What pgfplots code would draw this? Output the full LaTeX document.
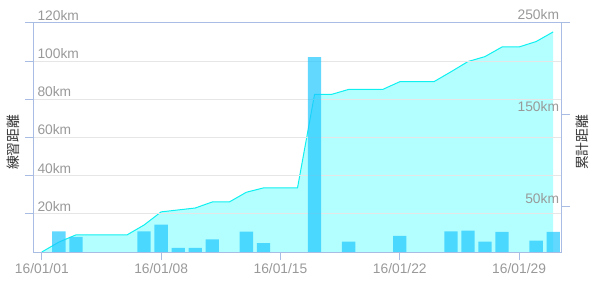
\documentclass[border=0pt]{standalone}
\usepackage{pgfplots}
\pgfplotsset{compat=1.18}
\usepackage{fontspec}
\setmainfont{Liberation Sans}
\newfontfamily\cjk{Noto Sans CJK JP}
\definecolor{axcol}{HTML}{A8BCE4}
\definecolor{gridcol}{HTML}{E6E6E6}
\definecolor{labcol}{HTML}{999999}
\definecolor{barcol}{HTML}{1FC8FF}
\definecolor{linecol}{HTML}{10F0F0}
\definecolor{areacol}{HTML}{B3FFFF}
\definecolor{titcol}{HTML}{333333}
\begin{document}
\begin{tikzpicture}[x=1pt,y=1pt]
\useasboundingbox (0,0) rectangle (602,288);
% cumulative distance (right axis)
\begin{axis}[
  at={(33.3pt,36pt)}, anchor=south west,
  scale only axis, width=528.4pt, height=229.3pt,
  xmin=0.5, xmax=31.5, ymin=0, ymax=250,
  hide x axis,
  axis y line*=right,
  axis on top,
  axis line style={axcol, line width=0.8pt},
  ytick={50,150,250}, yticklabels={50km,150km,250km},
  tick align=outside, major tick length=8pt,
  tick style={axcol, line width=0.8pt},
  /pgf/number format/assume math mode=true,
  yticklabel style={font=\fontsize{13.8}{16}\selectfont, text=labcol, anchor=base east, inner sep=0pt, xshift=-10.5pt, yshift=3pt},
  ylabel={\cjk 累計距離},
  ylabel style={font=\cjk\fontsize{13.8}{16}\selectfont, text=titcol, at={([shift={(21pt,-5pt)}]rel axis cs:1,0.5)}, anchor=center},
  clip=false,
]
\addplot[fill=areacol, draw=none] coordinates {
(1,0) (2,10.8) (3,18.65) (4,18.65) (5,18.65) (6,18.65) (7,29.45) (8,43.75)
(9,45.85) (10,47.95) (11,54.55) (12,54.55) (13,65.15) (14,69.85) (15,69.85)
(16,69.85) (17,171.85) (18,171.85) (19,177.25) (20,177.25) (21,177.25)
(22,185.65) (23,185.65) (24,185.65) (25,196.45) (26,207.65) (27,213.05)
(28,223.55) (29,223.55) (30,229.45) (31,239.95)} \closedcycle;
\addplot[linecol, line width=1pt] coordinates {
(1,0) (2,10.8) (3,18.65) (4,18.65) (5,18.65) (6,18.65) (7,29.45) (8,43.75)
(9,45.85) (10,47.95) (11,54.55) (12,54.55) (13,65.15) (14,69.85) (15,69.85)
(16,69.85) (17,171.85) (18,171.85) (19,177.25) (20,177.25) (21,177.25)
(22,185.65) (23,185.65) (24,185.65) (25,196.45) (26,207.65) (27,213.05)
(28,223.55) (29,223.55) (30,229.45) (31,239.95)};
\end{axis}
% daily distance (left axis)
\begin{axis}[
  at={(33.3pt,36pt)}, anchor=south west,
  scale only axis, width=528.4pt, height=229.3pt,
  xmin=0.5, xmax=31.5, ymin=0, ymax=120,
  axis line style={axcol, line width=0.8pt},
  tick pos=left,
  xtick={1,8,15,22,29},
  xticklabels={16/01/01,16/01/08,16/01/15,16/01/22,16/01/29},
  ytick={20,40,60,80,100,120},
  yticklabels={20km,40km,60km,80km,100km,120km},
  tick align=outside, major tick length=8pt,
  tick style={axcol, line width=0.8pt},
  ymajorgrids, grid style={gridcol, line width=0.8pt},
  /pgf/number format/assume math mode=true,
  yticklabel style={font=\fontsize{13.8}{16}\selectfont, text=labcol, anchor=base west, inner sep=0pt, xshift=12pt, yshift=2.5pt},
  xticklabel style={font=\fontsize{13.8}{16}\selectfont, text=labcol, anchor=base, inner sep=0pt, yshift=-14pt},
  ylabel={\cjk 練習距離},
  ylabel style={font=\cjk\fontsize{13.8}{16}\selectfont, text=titcol, at={([shift={(-20.3pt,-5pt)}]rel axis cs:0,0.5)}, anchor=center},
  clip=false,
]
\addplot[ybar, bar width=0.78, fill=barcol, fill opacity=0.7, draw=none] coordinates {
(2,10.8) (3,7.85) (7,10.8) (8,14.3) (9,2.1) (10,2.1) (11,6.6) (13,10.6) (14,4.7)
(17,102) (19,5.4) (22,8.4) (25,10.8) (26,11.2) (27,5.4) (28,10.5) (30,5.9) (31,10.5)};
\end{axis}
\end{tikzpicture}
\end{document}
